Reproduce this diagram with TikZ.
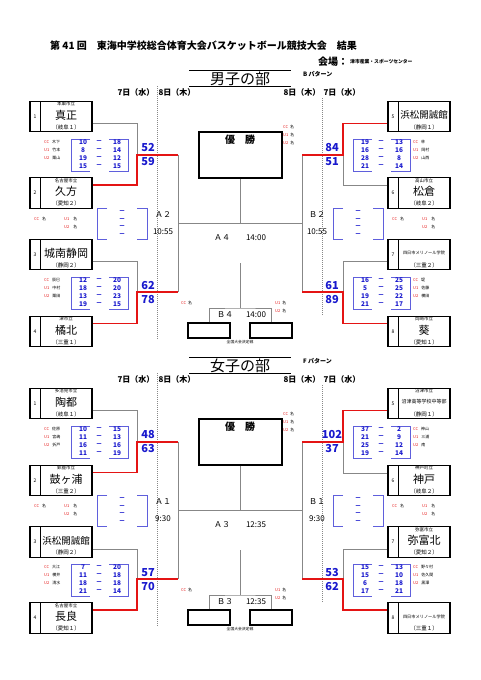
\documentclass[tikz,border=0pt]{standalone}
\usepackage{fontspec}
\setmainfont{Noto Sans CJK JP}
\definecolor{azul}{RGB}{25,25,205}
\definecolor{azulclaro}{RGB}{95,95,220}
\definecolor{rojo}{RGB}{228,20,20}
\definecolor{gris}{RGB}{135,135,135}
\tikzset{
  equipo/.style={draw, line width=1.1pt, minimum width=62pt, minimum height=30.5pt, inner sep=0pt},
  campeon/.style={draw, line width=1.3pt, minimum width=83pt, minimum height=46pt, inner sep=0pt},
  tercero/.style={draw, line width=1.1pt, minimum width=42pt, minimum height=15pt, inner sep=0pt},
  linea/.style={gris, line width=0.9pt},
  gana/.style={rojo, line width=1.4pt},
  marco/.style={azulclaro, line width=0.6pt},
  punto/.style={text=azul, inner sep=0pt, font=\fontsize{6.5}{6.5}\selectfont\bfseries},
  final/.style={text=azul, inner sep=0pt, font=\fontsize{11}{11}\selectfont\bfseries},
  chico/.style={inner sep=0pt, font=\fontsize{4}{4}\selectfont},
  hora/.style={inner sep=0pt, font=\fontsize{8}{8}\selectfont},
  fecha/.style={inner sep=0pt, font=\fontsize{8}{8}\selectfont\bfseries}
}
\begin{document}
\begin{tikzpicture}[x=1pt, y=-1pt]
\useasboundingbox (0,0) rectangle (481,680);
% Cabecera
\node[anchor=west, inner sep=0pt, font=\fontsize{10}{10}\selectfont\bfseries] (cab) at (50,46) {第 41 回　東海中学校総合体育大会バスケットボール競技大会　結果};
\node[anchor=west, inner sep=0pt, font=\fontsize{10}{10}\selectfont\bfseries] (sede) at (318,62) {会場：};
\node[anchor=west, inner sep=0pt, font=\fontsize{4.8}{4.8}\selectfont\bfseries] (lugar) at (350,62) {津市産業・スポーツセンター};
% Equipos
\foreach \id/\x/\y/\nro/\arriba/\nombre/\abajo/\tam in {
  m1/61/116.5/1/本巣市立/真正/（岐阜１）/11,
  m2/61/193/2/名古屋市立/久方/（愛知２）/11,
  m3/61/254.5/3//城南静岡/（静岡２）/11,
  m4/61/331.5/4/津市立/橘北/（三重１）/11,
  m5/419/116.5/5//浜松開誠館/（静岡１）/9.5,
  m6/419/193/6/高山市立/松倉/（岐阜２）/11,
  m7/419/254.5/7//四日市メリノール学院/（三重２）/4.2,
  m8/419/331.5/8/岡崎市立/葵/（愛知１）/11,
  f1/61/403.5/1/多治見市立/陶都/（岐阜１）/11,
  f2/61/480.5/2/鈴鹿市立/鼓ヶ浦/（三重２）/11,
  f3/61/542/3//浜松開誠館/（静岡２）/9.5,
  f4/61/618/4/名古屋市立/長良/（愛知１）/11,
  f5/419/403.5/5/沼津市立/沼津高等学校中等部/（静岡１）/5,
  f6/419/480.5/6/神戸町立/神戸/（岐阜２）/11,
  f7/419/542/7/弥富市立/弥富北/（愛知２）/11,
  f8/419/618/8//四日市メリノール学院/（三重１）/4.2}
{
  \node[equipo] (\id) at (\x,\y) {};
  \draw[line width=0.8pt] (\x-21,\y-15.25) -- (\x-21,\y+15.25);
  \node[chico, font=\fontsize{5}{5}\selectfont] (\id-n) at (\x-26,\y) {\nro};
  \node[chico, font=\fontsize{4.5}{4.5}\selectfont] (\id-a) at (\x+5,\y-12.3) {\arriba};
  \node[inner sep=0pt, font=\fontsize{\tam}{\tam}\selectfont] (\id-b) at (\x+5,\y-1.5) {\nombre};
  \node[chico, font=\fontsize{5.5}{5.5}\selectfont] (\id-c) at (\x+5,\y+10.5) {\abajo};
}
% Cuadro por mitad
\foreach \h/\dy/\titulo/\pat/\semA/\semB/\finA/\finB/\horaA/\horaB in {
  m/0/男子の部/B/Ａ２/Ｂ２/Ａ４/Ｂ４/10:55/14:00,
  f/287/女子の部/F/Ａ１/Ｂ１/Ａ３/Ｂ３/9:30/12:35}
{
  % Titulo
  \node[inner sep=0pt, font=\fontsize{15}{15}\selectfont] (\h-tit) at (240,79+\dy) {\titulo};
  \draw[line width=1.5pt] (189,70.7+\dy) -- (291,70.7+\dy);
  \draw[line width=1.5pt] (189,86.7+\dy) -- (291,86.7+\dy);
  \node[anchor=west, inner sep=0pt, font=\fontsize{6}{6}\selectfont\bfseries] (\h-pat) at (303,74+\dy) {\pat\ パターン};
  % Fechas
  \node[fecha] (\h-d1) at (136,92+\dy) {7日（水）};
  \node[fecha] (\h-d2) at (177,92+\dy) {8日（木）};
  \node[fecha] (\h-d3) at (302,92+\dy) {8日（木）};
  \node[fecha] (\h-d4) at (342,92+\dy) {7日（水）};
  \draw[gris, line width=0.4pt, dash pattern=on 1pt off 1pt] (157,86+\dy) -- (157,339+\dy);
  \draw[gris, line width=0.4pt, dash pattern=on 1pt off 1pt] (322,98+\dy) -- (322,315+\dy);
  % Puntos de cruce
  \coordinate (\h-q1) at (137,155+\dy);
  \coordinate (\h-q2) at (137,292+\dy);
  \coordinate (\h-q3) at (343,155+\dy);
  \coordinate (\h-q4) at (343,292+\dy);
  \coordinate (\h-s1) at (178,155+\dy);
  \coordinate (\h-s2) at (178,292+\dy);
  \coordinate (\h-s3) at (302,155+\dy);
  \coordinate (\h-s4) at (302,292+\dy);
  \coordinate (\h-c1) at (178,223+\dy);
  \coordinate (\h-c2) at (302,223+\dy);
  \coordinate (\h-t0) at (240,263+\dy);
  \coordinate (\h-t1) at (240,308+\dy);
  % Final y tercer puesto
  \node[campeon] (\h-yu) at (240.5,155+\dy) {};
  \node[inner sep=0pt, font=\fontsize{10}{10}\selectfont\bfseries] (\h-yut) at (240,140+\dy) {優　勝};
  \node[tercero] (\h-3a) at (209,330.5+\dy) {};
  \node[tercero] (\h-3b) at (271,330.5+\dy) {};
  \node[inner sep=0pt, font=\fontsize{3.8}{3.8}\selectfont] (\h-zk) at (240,342+\dy) {全国大会決定戦};
  % Lineas
  \draw[linea] ([yshift=-7pt]\h1.east) -| (\h-q1);
  \draw[linea] ([yshift=-7pt]\h3.east) -| (\h-q2);
  \draw[linea] ([yshift=7.5pt]\h6.west) -| (\h-q3);
  \draw[linea] ([yshift=-7pt]\h7.west) -| (\h-q4);
  \draw[linea] (\h-s1) -- (\h-s2);
  \draw[linea] (\h-s3) -- (\h-s4);
  \draw[linea] (\h-c1) -- (\h-c2);
  \draw[linea] (\h-yu.south) -- (\h-yu.south |- \h-c1);
  \draw[linea] (\h-t0) -- (\h-t1);
  \draw[linea] (\h-3a.north) |- (\h-t1) -| (\h-3b.north);
  \draw[gana] ([yshift=8pt]\h2.east) -| (\h-q1) -- (\h-s1);
  \draw[gana] ([yshift=8pt]\h4.east) -| (\h-q2) -- (\h-s2);
  \draw[gana] ([yshift=-7pt]\h5.west) -| (\h-q3) -- (\h-s3);
  \draw[gana] ([yshift=8pt]\h8.west) -| (\h-q4) -- (\h-s4);
  % Rondas
  \node[hora] (\h-ra) at (163,215+\dy) {\semA};
  \node[hora] (\h-ha) at (163,232+\dy) {\horaA};
  \node[hora] (\h-rb) at (317,215+\dy) {\semB};
  \node[hora] (\h-hb) at (317,232+\dy) {\horaA};
  \node[hora] (\h-rc) at (222,238+\dy) {\finA};
  \node[hora] (\h-hc) at (256,238+\dy) {\horaB};
  \node[hora] (\h-rd) at (225,315+\dy) {\finB};
  \node[hora] (\h-hd) at (256,315+\dy) {\horaB};
  \node[chico, anchor=west] (\h-yc) at (283,127+\dy) {\textcolor{rojo}{CC}\hspace{2pt}名};
  \node[chico, anchor=west] (\h-yv) at (283,135+\dy) {\textcolor{rojo}{U1}\hspace{2pt}名};
  \node[chico, anchor=west] (\h-yw) at (283,143+\dy) {\textcolor{rojo}{U2}\hspace{2pt}名};
  \node[chico, anchor=west] (\h-tc) at (181,303+\dy) {\textcolor{rojo}{CC}\hspace{2pt}名};
  \node[chico, anchor=west] (\h-tv) at (275,303+\dy) {\textcolor{rojo}{U1}\hspace{2pt}名};
  \node[chico, anchor=west] (\h-tw) at (275,311+\dy) {\textcolor{rojo}{U2}\hspace{2pt}名};
  % Tablas vacias
  \foreach \ex/\cx/\ux in {97/34/64, 333/392/422} {
    \draw[marco] (\ex+10,208+\dy) -- (\ex,208+\dy) -- (\ex,239+\dy) -- (\ex+10,239+\dy);
    \draw[marco] (\ex+40,208+\dy) -- (\ex+50,208+\dy) -- (\ex+50,239+\dy) -- (\ex+40,239+\dy);
    \foreach \k in {0,...,3}
      \node[punto] (\h-v\ex-\k) at (\ex+25,212+7.7*\k+\dy) {－};
    \node[chico, anchor=west] (\h-vc\ex) at (\cx,219+\dy) {\textcolor{rojo}{CC}\hspace{3pt}名};
    \node[chico, anchor=west] (\h-vu\ex) at (\ux,219+\dy) {\textcolor{rojo}{U1}\hspace{4pt}名};
    \node[chico, anchor=west] (\h-vw\ex) at (\ux,227+\dy) {\textcolor{rojo}{U2}\hspace{4pt}名};
  }
}
% Tablas de puntos
\foreach \id/\x/\y/\cx/\fx/\pts/\nA/\nB/\nC/\fa/\fb in {
  tm1/71/139/44/148/{10/18,8/14,19/12,15/15}/木下/竹本/栗山/52/59,
  tm2/71/277/44/148/{12/20,18/20,13/23,19/15}/辰巳/中村/栗田/62/78,
  tm3/353/139/413/332/{19/13,16/16,28/8,21/14}/林/岡村/山西/84/51,
  tm4/353/277/413/332/{16/25,5/25,19/22,21/17}/堤/佐藤/横田/61/89,
  tf1/71/426/44/148/{10/15,11/13,16/16,11/19}/佐原/宮嶋/折戸/48/63,
  tf2/71/564/44/148/{7/20,11/18,18/18,21/14}/大江/横井/清水/57/70,
  tf3/353/426/413/332/{37/2,21/9,25/12,19/14}/神山/三浦/南/102/37,
  tf4/353/564/413/332/{15/13,15/10,6/18,17/21}/野々村/佐久間/黒澤/53/62}
{
  \draw[marco] (\x+19,\y) -- (\x,\y) -- (\x,\y+32) -- (\x+19,\y+32);
  \draw[marco] (\x+38,\y) -- (\x+57,\y) -- (\x+57,\y+32) -- (\x+38,\y+32);
  \foreach \a/\b [count=\i] in \pts {
    \node[punto] (\id-\i a) at (\x+12,\y-4.5+8*\i) {\a};
    \node[punto] (\id-\i g) at (\x+28,\y-4.5+8*\i) {－};
    \node[punto] (\id-\i b) at (\x+46,\y-4.5+8*\i) {\b};
  }
  \node[chico, anchor=west] (\id-cc) at (\cx,\y+3) {\textcolor{rojo}{CC}\hspace{3pt}\nA};
  \node[chico, anchor=west] (\id-u1) at (\cx,\y+11) {\textcolor{rojo}{U1}\hspace{3pt}\nB};
  \node[chico, anchor=west] (\id-u2) at (\cx,\y+19) {\textcolor{rojo}{U2}\hspace{3pt}\nC};
  \node[final] (\id-fa) at (\fx,\y+8.3) {\fa};
  \node[final] (\id-fb) at (\fx,\y+22.3) {\fb};
}
\end{tikzpicture}
\end{document}
